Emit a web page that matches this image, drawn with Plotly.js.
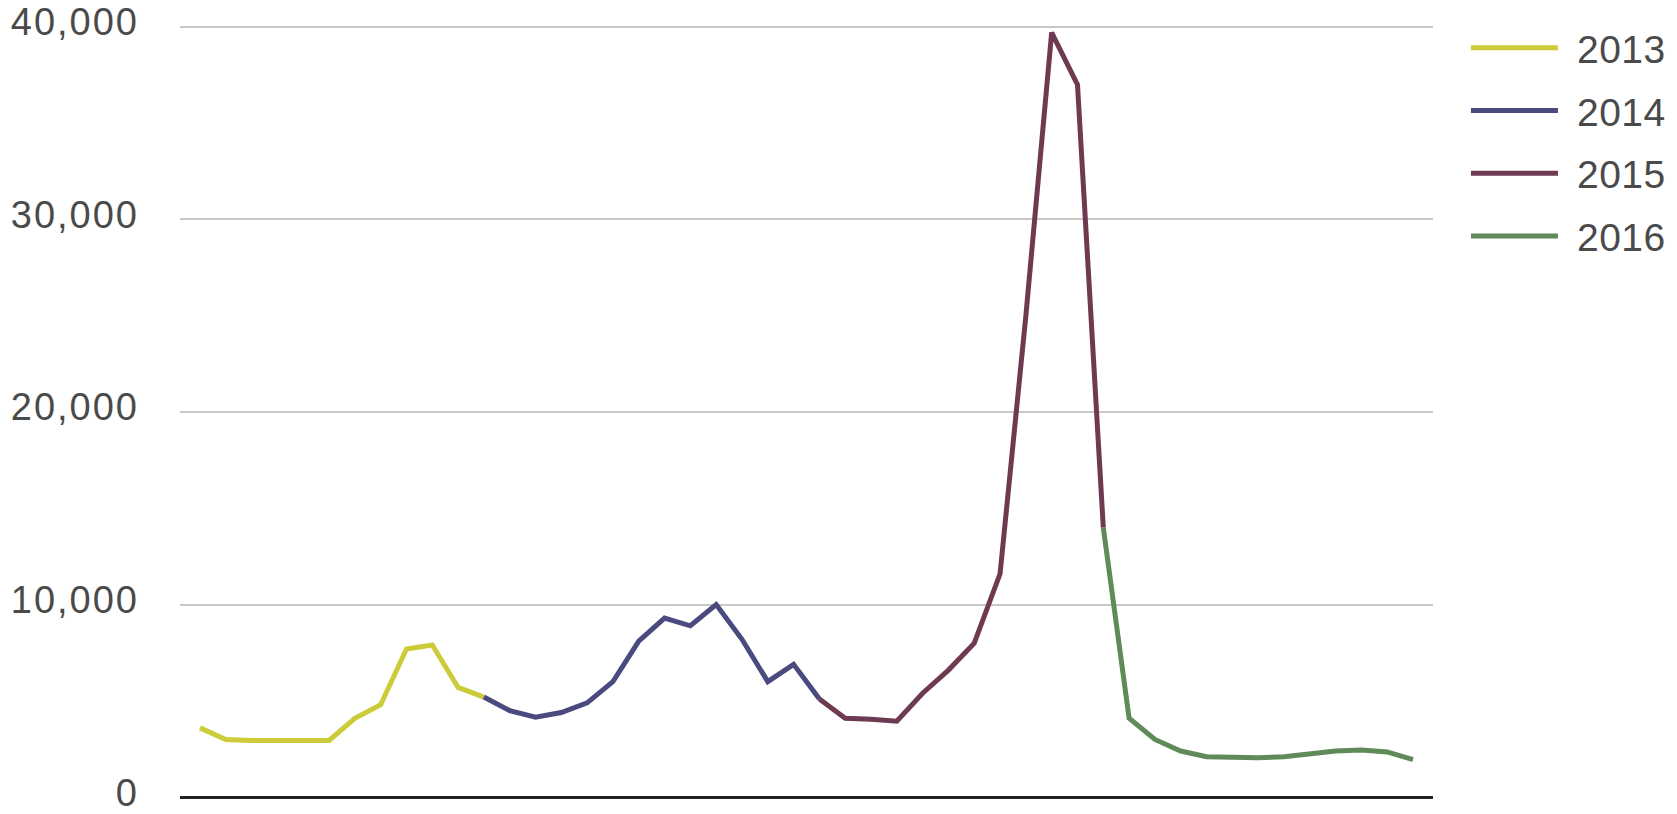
<!DOCTYPE html>
<html>
<head>
<meta charset="utf-8">
<script src="https://cdn.plot.ly/plotly-3.0.1.min.js"></script>
<style>
  html, body { margin: 0; padding: 0; background: #ffffff; }
  #chart { width: 1677px; height: 814px; }
  #chart .ytick text { letter-spacing: 2px; }
  #chart .legend .scrollbox { clip-path: none !important; }
  #chart .legendtext { letter-spacing: 0.5px; transform: translateX(14px); }
</style>
</head>
<body>
<div id="chart"></div>
<script>
// ---- data (monthly) ----
const monthNames = ['Jan','Feb','Mar','Apr','May','Jun','Jul','Aug','Sep','Oct','Nov','Dec'];
const yearLabels = ['2013', '2014', '2015', '2016'];
const months = [];
yearLabels.forEach(function (yr) { monthNames.forEach(function (m) { months.push(m + ' ' + yr); }); });

// each year's line also carries the joining point of the next segment
const months2013 = months.slice(0, 12);
const values2013 = [3600, 3000, 2950, 2950, 2950, 2950, 4100, 4800, 7700, 7900, 5700, 5200];

const months2014 = months.slice(11, 25);
const values2014 = [5200, 4500, 4150, 4400, 4900, 6000, 8100, 9300, 8900, 10000, 8200, 6000, 6900, 5100];

const months2015 = months.slice(24, 36);
const values2015 = [5100, 4100, 4050, 3950, 5400, 6600, 8000, 11600, 25000, 39700, 37000, 14000];

const months2016 = months.slice(35, 48);
const values2016 = [14000, 4100, 3000, 2400, 2100, 2050, 2050, 2100, 2250, 2400, 2450, 2350, 1950];

const yTicks = [0, 10000, 20000, 30000, 40000];
const yTickLabels = ['0', '10,000', '20,000', '30,000', '40,000'];

const colors = ['#cccc3a', '#4a4a7e', '#6d3a52', '#5e8b57'];

// ---- traces ----
const seriesX = [months2013, months2014, months2015, months2016];
const seriesY = [values2013, values2014, values2015, values2016];

const traces = yearLabels.map(function (yr, i) {
  return {
    type: 'scatter',
    mode: 'lines',
    name: yr,
    legendgroup: yr,
    x: seriesX[i],
    y: seriesY[i],
    line: { color: colors[i], width: 5, shape: 'linear' },
    hoverinfo: 'x+y+name'
  };
});

const fontFamily = '"Liberation Sans", Arial, Helvetica, sans-serif';

const layout = {
  width: 1677,
  height: 814,
  margin: { l: 180, r: 244, t: 21, b: 11, pad: 0 },
  paper_bgcolor: '#ffffff',
  plot_bgcolor: '#ffffff',
  font: { family: fontFamily, size: 39, color: '#4a4a4a' },
  showlegend: true,
  legend: {
    x: 1.0263, xanchor: 'left',
    y: 1.0064, yanchor: 'top',
    traceorder: 'grouped',
    tracegroupgap: 9,
    itemwidth: 87,
    font: { family: fontFamily, size: 39, color: '#4a4a4a' },
    bgcolor: 'rgba(0,0,0,0)',
    borderwidth: 0
  },
  xaxis: {
    type: 'category',
    categoryorder: 'array',
    categoryarray: months,
    range: [-0.775, 47.775],
    showticklabels: false,
    showgrid: false,
    zeroline: false,
    ticks: '',
    showline: false,
    fixedrange: true
  },
  yaxis: {
    range: [-300, 40300],
    tickmode: 'array',
    tickvals: yTicks,
    ticktext: yTickLabels,
    ticklabeloverflow: 'allow',
    ticklabelshift: -5,
    showgrid: true,
    gridcolor: '#c8c8c8',
    gridwidth: 2,
    zeroline: true,
    zerolinecolor: '#222222',
    zerolinewidth: 3,
    showline: false,
    ticks: '',
    ticklabelstandoff: 40,
    tickfont: { family: fontFamily, size: 38, color: '#4a4a4a' },
    fixedrange: true
  }
};

Plotly.newPlot('chart', traces, layout, { displayModeBar: false, staticPlot: true });
</script>
</body>
</html>
